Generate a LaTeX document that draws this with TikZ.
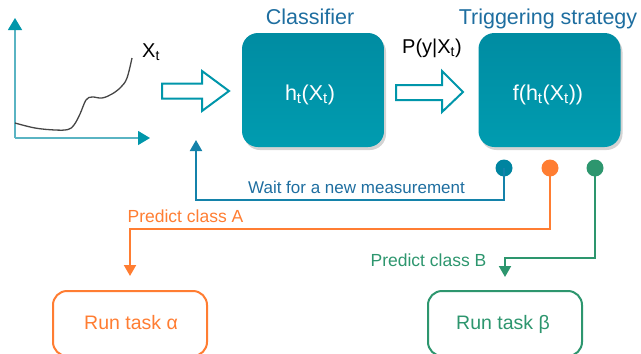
\documentclass[tikz,border=0pt]{standalone}
\usepackage{fontspec}
\setmainfont{Liberation Sans}
\usetikzlibrary{arrows.meta,shadows}
\definecolor{tealbox}{RGB}{0,150,170}
\definecolor{tealtop}{RGB}{0,140,162}
\definecolor{tealbot}{RGB}{0,156,176}
\definecolor{axisc}{RGB}{90,180,195}
\definecolor{titleblue}{RGB}{30,110,160}
\definecolor{lineblue}{RGB}{20,130,170}
\definecolor{dotblue}{RGB}{0,132,160}
\definecolor{orangec}{RGB}{255,125,50}
\definecolor{greenc}{RGB}{45,150,110}
\definecolor{curvec}{RGB}{70,70,70}
\tikzset{
  fs/.style={font=\fontsize{#1}{#1}\selectfont},
  bigbox/.style={rounded corners=16pt, minimum width=142pt, minimum height=114pt,
    top color=tealtop, bottom color=tealbot, draw=none, inner sep=0pt,
    drop shadow={shadow xshift=2pt, shadow yshift=-3pt, opacity=0.35}},
  boxtext/.style={fs=21.5, text=white, anchor=base, inner sep=0pt},
  titletext/.style={fs=21.5, text=titleblue, anchor=base, inner sep=0pt},
  blacktext/.style={fs=20, text=black, anchor=base, inner sep=0pt},
  lbl/.style={fs=17.5, anchor=base, inner sep=0pt},
  dotnode/.style={circle, minimum size=17pt, inner sep=0pt, draw=none},
  taskbox/.style={rounded corners=14pt, minimum width=154pt, minimum height=65pt,
    line width=2pt, fill=white, inner sep=0pt},
  hollow/.style={draw=tealbox, line width=2pt, fill=white, line join=miter},
  conn/.style={line width=2pt, -{Triangle[length=11pt,width=12pt]}},
}
\begin{document}
\begin{tikzpicture}[x=1pt,y=-1pt]
\useasboundingbox (0,0) rectangle (641,354);

% axes and curve
\coordinate (origin) at (15,138);
\coordinate (ytop) at (15,18);
\coordinate (xend) at (150,138);
\draw[axisc, line width=1.2pt, -{Triangle[length=12pt,width=14pt,color=tealbox]}] (origin) -- (ytop);
\draw[axisc, line width=1.2pt, -{Triangle[length=12pt,width=14pt,color=tealbox]}] (origin) -- (xend);
\draw[curvec, line width=1.3pt] plot[smooth, tension=0.6] coordinates
  {(15,123) (35,128) (55,130) (68,129.5) (74,125) (80,114) (86,100) (92,97) (102,98) (112,94) (121,87) (127,78) (132,58)};
\node[blacktext, anchor=base west] (xt) at (142,57) {X\textsubscript{t}};

% hollow arrows
\draw[hollow] (162,83.5) -- (202,83.5) -- (202,71) -- (229,91) -- (202,111) -- (202,98.5) -- (162,98.5) -- cycle;
\draw[hollow] (396,85) -- (442,85) -- (442,71) -- (463,92) -- (442,112) -- (442,100) -- (396,100) -- cycle;

% big boxes
\node[bigbox] (cls) at (313,90) {};
\node[bigbox] (trig) at (549.5,90) {};
\node[boxtext] (clsl) at (310,100) {h\textsubscript{t}(X\textsubscript{t})};
\node[boxtext] (trigl) at (548,100) {f(h\textsubscript{t}(X\textsubscript{t}))};
\node[titletext] (clst) at (310,24) {Classifier};
\node[titletext] (trigt) at (548,24) {Triggering strategy};
\node[blacktext] (pyx) at (432,53) {P(y|X\textsubscript{t})};

% dots
\node[dotnode, fill=dotblue] (d1) at (504,168) {};
\node[dotnode, fill=orangec] (d2) at (550,168) {};
\node[dotnode, fill=greenc] (d3) at (595,168) {};

% task boxes
\node[taskbox, draw=orangec] (ta) at (130,323.5) {};
\node[taskbox, draw=greenc] (tb) at (505,323.5) {};
\node[lbl, fs=19.5, text=orangec] (tal) at (131,329) {Run task α};
\node[lbl, fs=19.5, text=greenc] (tbl) at (503,329) {Run task β};

% connectors
\coordinate (wt) at (196,140);
\coordinate (b1) at (504,200);
\coordinate (b2) at (550,229);
\coordinate (b3) at (595,258);
\draw[conn, lineblue] (d1.center) -- (b1) -| (wt);
\draw[conn, orangec, shorten >=14pt] (d2.center) -- (b2) -| (ta.north);
\draw[conn, greenc, shorten >=13pt] (d3.center) -- (b3) -| (tb.north);

% labels
\node[lbl, fs=17, text=titleblue] (wl) at (356.5,193) {Wait for a new measurement};
\node[lbl, text=orangec] (pa) at (185.5,222) {Predict class A};
\node[lbl, text=greenc] (pb) at (428.5,266) {Predict class B};
\end{tikzpicture}
\end{document}
